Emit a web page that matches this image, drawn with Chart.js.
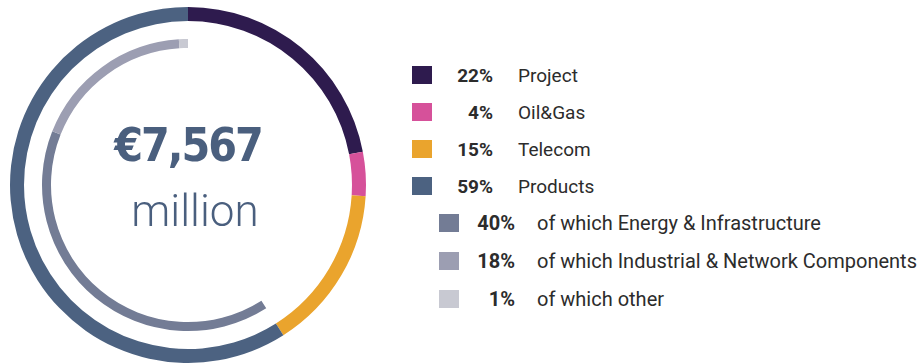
<!DOCTYPE html>
<html>
<head>
<meta charset="utf-8">
<script src="https://cdn.jsdelivr.net/npm/chart.js@4.4.0/dist/chart.umd.min.js"></script>
<style>
  html, body { margin: 0; padding: 0; background: #fff; }
  #wrap { position: relative; width: 923px; height: 363px; overflow: hidden; }
  #ring { position: absolute; left: 0; top: 0; width: 376px; height: 363px; }
  .total { position: absolute; width: 200px; text-align: center; color: #4a5f7e; }
  #amount { left: 88px; top: 118px; font: bold 46px "DejaVu Sans Condensed", "DejaVu Sans", sans-serif; letter-spacing: -2px; }
  #unit { left: 95px; top: 185px; font: 300 44px Roboto, sans-serif; }
  .row { position: absolute; height: 20px; display: flex; align-items: center; font-family: Roboto, sans-serif; font-size: 19px; color: #2c2c2c; }
  .row.sub { font-size: 20px; }
  .row .sw { width: 20px; height: 18px; }
  .row .pct { font-weight: bold; text-align: right; }
  .row .lbl { white-space: nowrap; }
</style>
</head>
<body>
<div id="wrap">
  <div id="ring"><canvas id="chart"></canvas></div>
  <div class="total" id="amount"></div>
  <div class="total" id="unit"></div>
  <div id="legend"></div>
</div>
<script>
// revenue split by business area
const segments = ['Project', 'Oil&Gas', 'Telecom', 'Products'];
const segmentShares = [22, 4, 15, 59];
const segmentColors = ['#2e1b4e', '#d6519a', '#eaa42d', '#4c6281'];

// products breakdown
const productLines = ['of which Energy & Infrastructure', 'of which Industrial & Network Components', 'of which other'];
const productShares = [40, 18, 1];
const productColors = ['#737c95', '#9c9eb2', '#c8c9d2'];

const totalAmount = '€7,567';
const totalUnit = 'million';

document.getElementById('amount').textContent = totalAmount;
document.getElementById('unit').textContent = totalUnit;

// inner ring covers only the products share, ending at the top
const productTotal = productShares.reduce((a, b) => a + b, 0);
const innerSweep = productTotal * 3.6;

new Chart(document.getElementById('chart'), {
  type: 'doughnut',
  data: {
    labels: segments,
    datasets: [
      {
        data: segmentShares,
        backgroundColor: segmentColors,
        borderWidth: 0,
        weight: 14
      },
      {
        // gap between the two rings
        data: [1],
        backgroundColor: 'rgba(0,0,0,0)',
        borderWidth: 0,
        weight: 18
      },
      {
        data: productShares,
        backgroundColor: productColors,
        borderWidth: 0,
        weight: 9,
        rotation: 360 - innerSweep,
        circumference: innerSweep
      }
    ]
  },
  options: {
    responsive: true,
    maintainAspectRatio: false,
    animation: false,
    cutout: 137,
    layout: { padding: { left: 10, right: 10, top: 7, bottom: 0 } },
    plugins: { legend: { display: false }, tooltip: { enabled: false } },
    events: []
  }
});

// legend rows
const legend = document.getElementById('legend');
function addRow(y, swX, pctRight, lblX, color, pct, text, sub) {
  const row = document.createElement('div');
  row.className = sub ? 'row sub' : 'row';
  row.style.top = (y - 10) + 'px';
  row.style.left = swX + 'px';
  const sw = document.createElement('div');
  sw.className = 'sw';
  sw.style.background = color;
  const p = document.createElement('div');
  p.className = 'pct';
  p.style.width = (pctRight - swX - 20) + 'px';
  p.textContent = pct + '%';
  const l = document.createElement('div');
  l.className = 'lbl';
  l.style.marginLeft = (lblX - pctRight) + 'px';
  l.textContent = text;
  row.append(sw, p, l);
  legend.appendChild(row);
}
segments.forEach((s, i) => addRow(75 + i * 37, 412, 493, 518, segmentColors[i], segmentShares[i], s, false));
productLines.forEach((s, i) => addRow(223 + i * 38, 439, 515, 537, productColors[i], productShares[i], s, true));
</script>
</body>
</html>
